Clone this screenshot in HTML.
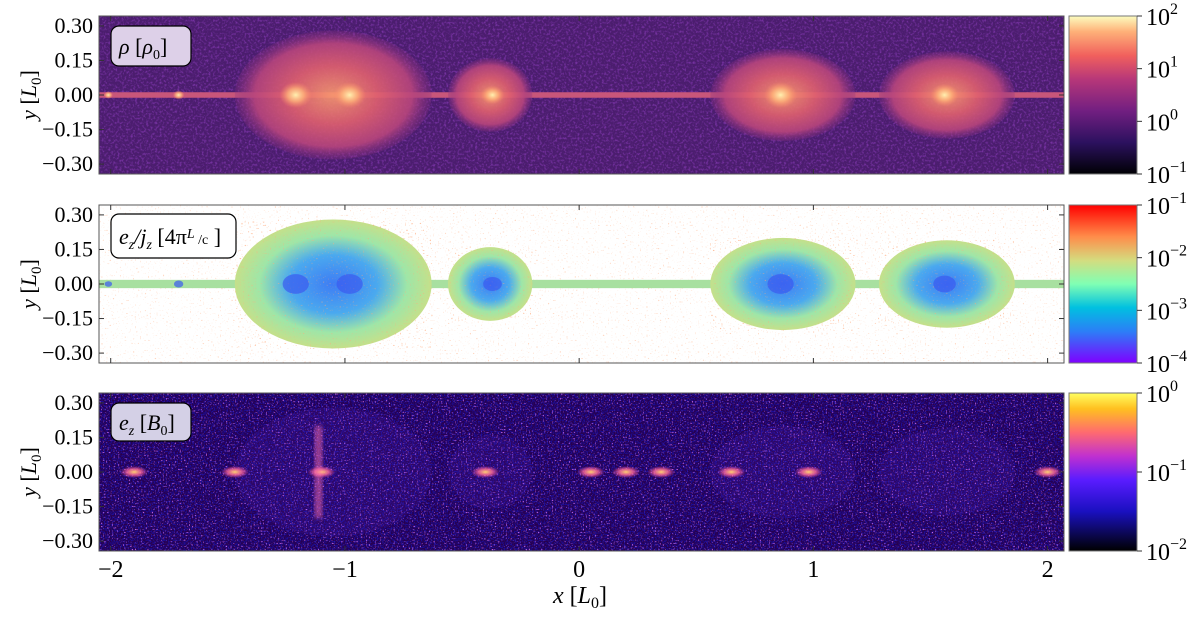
<!DOCTYPE html>
<html><head><meta charset="utf-8"><style>
body{margin:0;background:#fff;width:1200px;height:613px;overflow:hidden}
svg text{font-family:"Liberation Serif",serif;fill:#000}
</style></head><body>
<svg id="fig" width="1200" height="613" viewBox="0 0 1200 613" xmlns="http://www.w3.org/2000/svg">
<defs>
<linearGradient id="magma" x1="0" y1="1" x2="0" y2="0">
<stop offset="0" stop-color="#000004"/><stop offset="0.2" stop-color="#2c115f"/><stop offset="0.4" stop-color="#721f81"/><stop offset="0.6" stop-color="#b73779"/><stop offset="0.75" stop-color="#f1605d"/><stop offset="0.9" stop-color="#feb078"/><stop offset="1" stop-color="#fcfdbf"/></linearGradient>
<linearGradient id="rainbow" x1="0" y1="1" x2="0" y2="0">
<stop offset="0" stop-color="#7f00ff"/><stop offset="0.2" stop-color="#2c7ef7"/><stop offset="0.35" stop-color="#00c0e0"/><stop offset="0.5" stop-color="#80ffb4"/><stop offset="0.65" stop-color="#d4dc7f"/><stop offset="0.8" stop-color="#ff8c4a"/><stop offset="1" stop-color="#ff0000"/></linearGradient>
<linearGradient id="gnu" x1="0" y1="1" x2="0" y2="0">
<stop offset="0" stop-color="#000000"/><stop offset="0.25" stop-color="#1a10c0"/><stop offset="0.45" stop-color="#5a1cff"/><stop offset="0.6" stop-color="#c030d0"/><stop offset="0.75" stop-color="#ff6a70"/><stop offset="0.9" stop-color="#ffc020"/><stop offset="1" stop-color="#ffff60"/></linearGradient>
<radialGradient id="isl1"><stop offset="0" stop-color="#fa9a6e"/><stop offset="0.45" stop-color="#e0606e"/><stop offset="0.8" stop-color="#b8457c"/><stop offset="1" stop-color="#8a3080" stop-opacity="0.3"/></radialGradient>
<radialGradient id="core1"><stop offset="0" stop-color="#fff0b0"/><stop offset="0.5" stop-color="#ffb37a" stop-opacity="0.8"/><stop offset="1" stop-color="#fa8a6a" stop-opacity="0"/></radialGradient>
<radialGradient id="isl2"><stop offset="0" stop-color="#3e7cf4"/><stop offset="0.45" stop-color="#4aa9ef"/><stop offset="0.75" stop-color="#9ee6a8"/><stop offset="1" stop-color="#c5e08a"/></radialGradient>
<radialGradient id="core3"><stop offset="0" stop-color="#ffd070"/><stop offset="0.5" stop-color="#ff6a9a" stop-opacity="0.8"/><stop offset="1" stop-color="#ff50a0" stop-opacity="0"/></radialGradient>
<filter id="noiseDark" x="0" y="0" width="100%" height="100%">
<feTurbulence type="fractalNoise" baseFrequency="0.45" numOctaves="2" seed="3"/>
<feColorMatrix type="matrix" values="0 0 0 0 0.55  0 0 0 0 0.1  0 0 0 0 1  0 0 0 3 -1.4"/>
</filter>
<filter id="noiseSpeck" x="0" y="0" width="100%" height="100%">
<feTurbulence type="fractalNoise" baseFrequency="0.6" numOctaves="1" seed="7"/>
<feColorMatrix type="matrix" values="0 0 0 0 1  0 0 0 0 0.4  0 0 0 0 0.2  0 0 0 6 -3.9"/>
</filter>
<filter id="noiseBlack" x="0" y="0" width="100%" height="100%">
<feTurbulence type="fractalNoise" baseFrequency="0.7" numOctaves="1" seed="11"/>
<feColorMatrix type="matrix" values="0 0 0 0 0.02  0 0 0 0 0  0 0 0 0 0.08  0 0 0 5 -1.8"/>
</filter>
<filter id="noisePurple" x="0" y="0" width="100%" height="100%">
<feTurbulence type="fractalNoise" baseFrequency="0.65" numOctaves="1" seed="23"/>
<feColorMatrix type="matrix" values="0 0 0 0 0.6  0 0 0 0 0.15  0 0 0 0 0.9  0 0 0 5 -3.0"/>
</filter>
<filter id="blur2"><feGaussianBlur stdDeviation="2"/></filter>
<clipPath id="c1"><rect x="99" y="16" width="965" height="158"/></clipPath>
<clipPath id="c2"><rect x="99" y="205" width="965" height="158"/></clipPath>
<clipPath id="c3"><rect x="99" y="393" width="965" height="159"/></clipPath>
</defs>
<g id="layer"></g>
</svg>
<script>
// data
const islandX=[-1.05,-0.38,0.87,1.57];
const islandHW=[0.42,0.18,0.31,0.29];
const islandHH=[0.28,0.16,0.2,0.19];
const coreX=[-1.21,-0.98,-0.37,0.86,1.56,-2.01,-1.71];
const coreR=[0.07,0.07,0.05,0.07,0.06,0.02,0.025];
const xTicks=[-2,-1,0,1,2];
const yTicks=[0.30,0.15,0.00,-0.15,-0.30];
const cb1=[2,1,0,-1], cb2=[-1,-2,-3,-4], cb3=[0,-1,-2];
const panelsTop=[16,205,393];
const NS="http://www.w3.org/2000/svg";
const L=document.getElementById('layer');
const X0=99,X1=1064,xmin=-2.05,xmax=2.07,H=158,ymax=0.343;
const sx=v=>X0+(v-xmin)/(xmax-xmin)*(X1-X0);
const sy=(top,v)=>top+H/2-v/ymax*(H/2);
function el(tag,attrs,parent){const e=document.createElementNS(NS,tag);for(const k in attrs)e.setAttribute(k,attrs[k]);(parent||L).appendChild(e);return e;}
const bgs=['#4b1d6e','#ffffff','#1c0e98'];
const clips=['c1','c2','c3'];
panelsTop.forEach((top,p)=>{
  const g=el('g',{'clip-path':'url(#'+clips[p]+')'});
  
  
  el('rect',{x:X0,y:top,width:X1-X0,height:H,fill:bgs[p]},g);
  if(p==0){
    el('rect',{x:X0,y:top,width:X1-X0,height:H,fill:'#2a0c50',filter:'url(#noiseDark)',opacity:0.35},g);
    el('rect',{x:X0,y:sy(top,0.012),width:X1-X0,height:sy(top,-0.012)-sy(top,0.012),fill:'#c8567a'},g);
  } else if(p==1){
    el('rect',{x:X0,y:top,width:X1-X0,height:H,filter:'url(#noiseSpeck)',opacity:0.6},g);
    el('rect',{x:X0,y:sy(top,0.018),width:X1-X0,height:sy(top,-0.018)-sy(top,0.018),fill:'#a8e0a0'},g);
  } else {
    el('rect',{x:X0,y:top,width:X1-X0,height:H,filter:'url(#noiseBlack)'},g);
    el('rect',{x:X0,y:top,width:X1-X0,height:H,filter:'url(#noisePurple)'},g);
  }
  islandX.forEach((cx,i)=>{
    const rx=sx(cx+islandHW[i])-sx(cx), ry=sy(top,0)-sy(top,islandHH[i]);
    let e;
    if(p==0) e=el('ellipse',{cx:sx(cx),cy:sy(top,0),rx:rx,ry:ry,fill:'url(#isl1)',opacity:0.9},g);
    else if(p==1){ e=el('ellipse',{cx:sx(cx),cy:sy(top,0),rx:rx,ry:ry,fill:'url(#isl2)'},g);
      el('ellipse',{cx:sx(cx),cy:sy(top,0),rx:rx,ry:ry,filter:'url(#noiseSpeck)',opacity:0.6},g);}
    else e=el('ellipse',{cx:sx(cx),cy:sy(top,0),rx:rx,ry:ry,fill:'#6a30e0',opacity:0.12},g);
    if(e){}
  });
  coreX.forEach((cx,i)=>{
    const r=sx(cx+coreR[i])-sx(cx);
    if(p==0) el('ellipse',{cx:sx(cx),cy:sy(top,0),rx:r,ry:r*0.8,fill:'url(#core1)'},g);
    else if(p==1) el('ellipse',{cx:sx(cx),cy:sy(top,0),rx:r*0.8,ry:r*0.6,fill:'#3a5af0',opacity:0.7},g);
  });
  if(p==2){
    [-1.9,-1.47,-1.1,-0.4,0.05,0.2,0.35,0.65,0.98,2.0].forEach(cx=>{
      el('ellipse',{cx:sx(cx),cy:sy(top,0),rx:14,ry:6,fill:'url(#core3)'},g);
    });
    el('rect',{x:sx(-1.13),y:sy(top,0.2),width:8,height:sy(top,-0.2)-sy(top,0.2),fill:'#ff70b0',opacity:0.5,filter:'url(#blur2)'},g);
  }
  const fr=el('rect',{x:X0,y:top,width:X1-X0,height:H,fill:'none',stroke:'#555','stroke-width':1});
  
  
  xTicks.forEach(t=>{el('line',{x1:sx(t),x2:sx(t),y1:top+H,y2:top+H-5,stroke:'#333'});el('line',{x1:sx(t),x2:sx(t),y1:top,y2:top+5,stroke:'#333'});});
  yTicks.forEach(t=>{
    el('line',{x1:X0,x2:X0+5,y1:sy(top,t),y2:sy(top,t),stroke:'#333'});
    el('line',{x1:X1,x2:X1-5,y1:sy(top,t),y2:sy(top,t),stroke:'#333'});
    const tx=el('text',{x:93,y:sy(top,t)+7,'text-anchor':'end','font-size':22});
    tx.textContent=(t<0?'\u2212':'')+Math.abs(t).toFixed(2);
    
    
  });
  const yl=el('text',{x:0,y:0,'font-size':22,transform:'translate(36,'+(top+H/2)+') rotate(-90)','text-anchor':'middle'});
  yl.innerHTML='<tspan font-style="italic">y</tspan> [<tspan font-style="italic">L</tspan><tspan font-size="15" dy="5">0</tspan><tspan dy="-5">]</tspan>';
  
  
  const grads=['magma','rainbow','gnu'];
  const cb=el('rect',{x:1069,y:top,width:68,height:H,fill:'url(#'+grads[p]+')',stroke:'#777'});
  
  
  const ex=[cb1,cb2,cb3][p];
  ex.forEach((e,i)=>{
    const yy=top+i*H/(ex.length-1);
    el('line',{x1:1137,x2:1142,y1:yy,y2:yy,stroke:'#333'});
    const tx=el('text',{x:1146,y:yy+9,'font-size':24});
    tx.innerHTML='10<tspan font-size="16" dy="-11">'+(e<0?'\u2212':'')+Math.abs(e)+'</tspan>';
    
    
  });
});
xTicks.forEach(t=>{
  const tx=el('text',{x:sx(t),y:577,'text-anchor':'middle','font-size':24});
  tx.textContent=(t<0?'\u2212':'')+Math.abs(t);
  
  
});
const xl=el('text',{x:580,y:603,'text-anchor':'middle','font-size':24});
xl.innerHTML='<tspan font-style="italic">x</tspan> [<tspan font-style="italic">L</tspan><tspan font-size="16" dy="5">0</tspan><tspan dy="-5">]</tspan>';


const labs=[[111,26,80,40,'#ddd0e8','<tspan font-style="italic">ρ</tspan> [<tspan font-style="italic">ρ</tspan><tspan font-size="14" dy="5">0</tspan><tspan dy="-5">]</tspan>'],
[111,214,125,44,'#ffffff','<tspan font-style="italic">e<tspan font-size="14" dy="5">z</tspan><tspan dy="-5">/j</tspan><tspan font-size="14" dy="5">z</tspan></tspan><tspan dy="-5"> [4π</tspan><tspan font-style="italic" font-size="14" dy="-6">L</tspan><tspan font-size="14" dy="6"> /c</tspan><tspan> ]</tspan>'],
[111,403,80,38,'#d4d0e6','<tspan font-style="italic">e</tspan><tspan font-style="italic" font-size="14" dy="5">z</tspan><tspan dy="-5"> [</tspan><tspan font-style="italic">B</tspan><tspan font-size="14" dy="5">0</tspan><tspan dy="-5">]</tspan>']];
labs.forEach((l,i)=>{
  const r=el('rect',{x:l[0],y:l[1],width:l[2],height:l[3],rx:8,fill:l[4],stroke:'#000','stroke-width':1.2});
  
  
  const t=el('text',{x:l[0]+8,y:l[1]+l[3]/2+8,'font-size':22});
  t.innerHTML=l[5];
  
  
});
</script>
</body></html>
